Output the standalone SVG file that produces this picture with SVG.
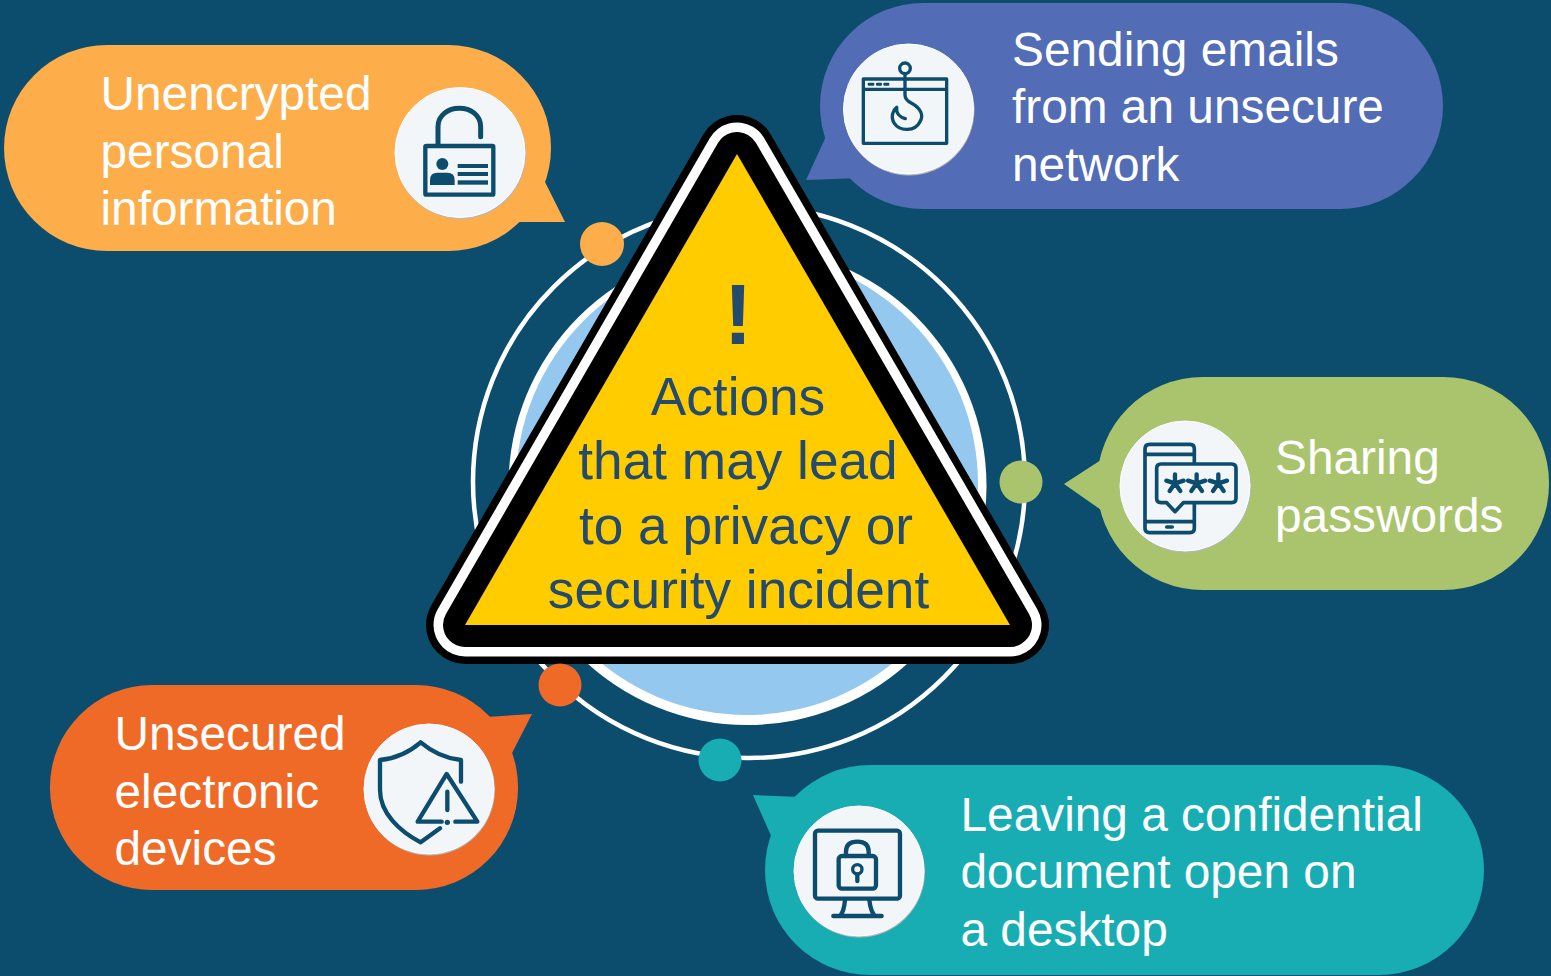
<svg xmlns="http://www.w3.org/2000/svg" width="1551" height="976" viewBox="0 0 1551 976">
<style>
.t{font-family:"Liberation Sans",Arial,sans-serif;font-size:47.8px;fill:#fff}
.c{font-family:"Liberation Sans",Arial,sans-serif;font-size:53.2px;fill:#244a6e;text-anchor:middle}
.disc{fill:#f2f6f9;stroke:#fff;stroke-width:1}
.rim{fill:#b4b8bb}
.i{fill:none;stroke:#0c4d6e;stroke-width:13;stroke-linecap:round;stroke-linejoin:round}
.f{fill:#0c4d6e}
.tri{stroke-linejoin:round}
</style>
<rect width="1551" height="976" fill="#0c4d6d"/>
<g id="center-circle"><circle cx="747.500" cy="486" r="239" fill="#fff"/><circle cx="747" cy="484" r="231" fill="#95c8ee"/></g>
<g id="connectors">
<circle cx="749" cy="482" r="276" fill="none" stroke="#fff" stroke-width="4.5"/>
</g>
<g id="warning-triangle">
<polygon class="tri" points="737,154 1010,625 465,625" fill="#000" stroke="#000" stroke-width="78"/>
<polygon class="tri" points="737,154 1010,625 465,625" fill="#fff" stroke="#fff" stroke-width="63"/>
<polygon class="tri" points="737,154 1010,625 465,625" fill="#000" stroke="#000" stroke-width="44"/>
<polygon points="737,154 1010,625 465,625" fill="#ffcc00"/>
<text x="738" y="343.500" font-family="Liberation Sans, Arial, sans-serif" font-size="86" font-weight="700" fill="#244a6e" text-anchor="middle">!</text>
<text class="c" x="738" y="415">Actions</text>
<text class="c" x="738" y="479">that may lead</text>
<text class="c" x="746" y="544">to a privacy or</text>
<text class="c" x="738.500" y="607.500">security incident</text>
</g>
<g id="dots">
<circle cx="602" cy="244" r="22" fill="#fdad4a"/>
<circle cx="1021" cy="482" r="21.500" fill="#a9c46d"/>
<circle cx="560" cy="685" r="21.500" fill="#ef6a27"/>
<circle cx="720" cy="760" r="21.500" fill="#17adb3"/>
</g>
<g id="node-unencrypted">
<rect x="4" y="45" width="547" height="206" rx="103" fill="#fdad4a"/>
<polygon points="543,178 565,222 515,222" fill="#fdad4a"/>
<circle class="rim" cx="460.500" cy="153.500" r="65.500"/><circle class="disc" cx="460" cy="152.500" r="65"/>
<g transform="translate(380,70) scale(.3333)">
<rect class="i" x="136" y="228" width="204" height="146" rx="3"/>
<path class="i" style="stroke-width:15" d="M174,225V170C174,135 205,115 238,115C272,115 302,135 302,170V200"/>
<circle class="f" cx="187" cy="282" r="18"/>
<path class="f" d="M150,345V330Q150,308 172,308H202Q224,308 224,330V345Z"/>
<rect class="f" x="233" y="282" width="91" height="12"/><rect class="f" x="233" y="306" width="91" height="12"/><rect class="f" x="233" y="331" width="91" height="13"/>
</g>
<text class="t"><tspan x="100.500" y="110">Unencrypted</tspan><tspan x="100.500" y="168">personal</tspan><tspan x="100.500" y="225">information</tspan></text>
</g>
<g id="node-emails">
<rect x="820" y="3" width="623" height="206" rx="103" fill="#526cb5"/>
<polygon points="828,132 806,180 860,178" fill="#526cb5"/>
<circle class="rim" cx="909" cy="110" r="65.500"/><circle class="disc" cx="908.500" cy="109" r="65"/>
<g transform="translate(830,30) scale(.3333)">
<path class="i" style="stroke-width:10" d="M100,147H350V340H100ZM100,178H350"/>
<rect class="f" x="113" y="158" width="20" height="9" rx="3"/><rect class="f" x="138" y="158" width="18" height="9" rx="3"/><rect class="f" x="160" y="158" width="18" height="9" rx="3"/>
<circle cx="225" cy="115" r="16" fill="#f2f6f9" stroke="#0c4d6e" stroke-width="10"/>
<path class="i" style="stroke-width:10" d="M225,131V195Q225,210 245,220C272,235 282,255 270,275C255,305 210,305 193,280C180,260 190,240 200,232C198,250 210,262 226,266"/>
</g>
<text class="t"><tspan x="1012" y="66">Sending emails</tspan><tspan x="1012" y="123">from an unsecure</tspan><tspan x="1012" y="181">network</tspan></text>
</g>
<g id="node-passwords">
<rect x="1097" y="377" width="452" height="213" rx="106" fill="#a9c46d"/>
<polygon points="1064,484 1104,458 1104,512" fill="#a9c46d"/>
<circle class="rim" cx="1185.500" cy="487" r="65.500"/><circle class="disc" cx="1185" cy="486" r="65"/>
<g transform="translate(1105,405) scale(.3333)">
<path class="i" style="stroke-width:11" d="M268,175V132Q268,118 255,118H134Q120,118 120,132V370Q120,383 134,383H255Q268,383 268,370V296M120,148H268M120,350H268"/>
<rect class="f" x="180" y="361" width="27" height="10" rx="5"/>
<path class="i" style="stroke-width:11" d="M168,177H380Q393,177 393,190V280Q393,293 380,293H235L210,320L185,293H168Q155,293 155,280V190Q155,177 168,177Z"/>
<g class="i" style="stroke-width:13">
<path d="M210,208V235M210,235L184,227M210,235L194,258M210,235L226,258M210,235L236,227"/>
<path d="M275,208V235M275,235L249,227M275,235L259,258M275,235L291,258M275,235L301,227"/>
<path d="M340,208V235M340,235L314,227M340,235L324,258M340,235L356,258M340,235L366,227"/>
</g>
</g>
<text class="t"><tspan x="1275" y="474">Sharing</tspan><tspan x="1275" y="532">passwords</tspan></text>
</g>
<g id="node-devices">
<rect x="50" y="685" width="468" height="205" rx="102" fill="#ef6a27"/>
<polygon points="532,714 486,717 510,757" fill="#ef6a27"/>
<circle class="rim" cx="429.500" cy="790" r="65.500"/><circle class="disc" cx="429" cy="789" r="65"/>
<g transform="translate(350,710) scale(.3333)">
<path class="i" d="M270,355L212,397C150,365 90,310 90,240V150C140,145 180,125 212,97C245,125 285,145 333,150V215"/>
<path class="i" d="M275,335H203L290,192L382,335H316"/>
<path class="i" d="M292,245V300"/>
<circle class="f" cx="292" cy="337" r="8"/>
</g>
<text class="t"><tspan x="114.500" y="750">Unsecured</tspan><tspan x="114.500" y="808">electronic</tspan><tspan x="114.500" y="865">devices</tspan></text>
</g>
<g id="node-document">
<rect x="765" y="765" width="719" height="210" rx="105" fill="#17adb3"/>
<polygon points="753,795 800,797 772,838" fill="#17adb3"/>
<circle class="rim" cx="859.500" cy="872" r="65.500"/><circle class="disc" cx="859" cy="871" r="65"/>
<g transform="translate(780,790) scale(.3333)">
<rect class="i" x="105" y="122" width="255" height="204" rx="9"/>
<path class="i" d="M195,330Q192,365 180,378M268,330Q272,365 285,378M160,378H305"/>
<rect class="i" x="176" y="198" width="112" height="98" rx="10"/>
<path class="i" d="M198,198V185Q198,155 232,155Q266,155 266,185V198"/>
<circle cx="232" cy="238" r="14" fill="none" stroke="#0c4d6e" stroke-width="10"/>
<path class="i" d="M232,254V273"/>
</g>
<text class="t"><tspan x="960.500" y="831">Leaving a confidential</tspan><tspan x="960.500" y="888">document open on</tspan><tspan x="960.500" y="946">a desktop</tspan></text>
</g>
</svg>
